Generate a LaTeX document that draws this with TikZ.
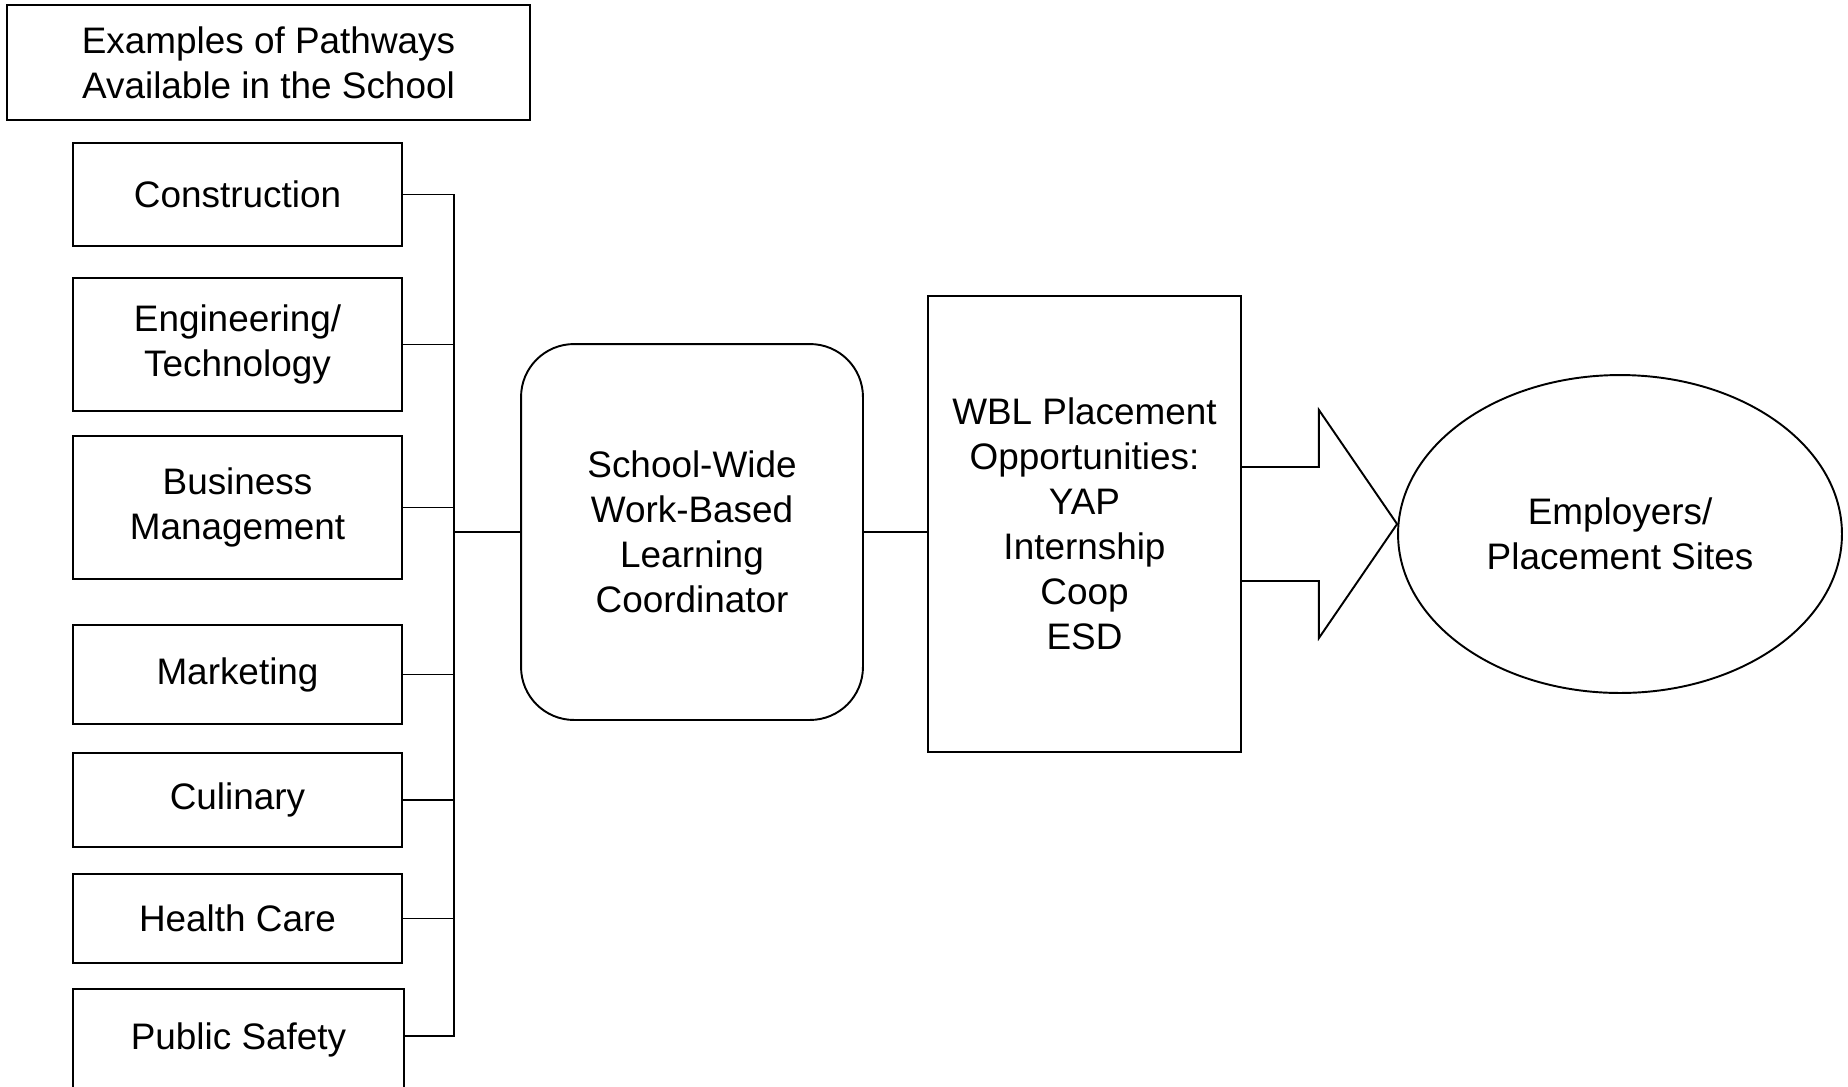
\documentclass[tikz,border=0pt]{standalone}
\usepackage{fontspec}
\setmainfont{Liberation Sans}
\usetikzlibrary{shapes.geometric,calc,positioning}

\begin{document}
\begin{tikzpicture}[x=0.02cm, y=-0.02cm, line width=1.1pt]
    \useasboundingbox (0,0) rectangle (1848,1086);

    % Style for nodes
    \tikzset{
        txt/.style={align=center, inner sep=0pt, font=\fontsize{21}{25.6}\selectfont},
        pathbox/.style={txt, rectangle, draw=black, minimum width=6.58cm},
        coordbox/.style={txt, rectangle, rounded corners=1.06cm, draw=black, minimum width=6.84cm, minimum height=7.52cm},
        wblbox/.style={txt, rectangle, draw=black, minimum width=6.26cm, minimum height=9.12cm},
        sitenode/.style={txt, ellipse, draw=black, minimum width=8.88cm, minimum height=6.36cm}
    }

    % --- HEADING ---
    \node[txt, draw=black, minimum width=10.46cm, minimum height=2.3cm] (title) at (268.5,62.5) {Examples of Pathways\\Available in the School};

    % --- PATHWAY BOXES ---
    \node[pathbox, minimum height=2.06cm] (constr) at (237.5,194.5) {Construction};
    \node[pathbox, minimum height=2.66cm] (engtech) at (237.5,344.5) {Engineering/\\Technology};
    \node[pathbox, minimum height=2.86cm] (busmgmt) at (237.5,507.5) {Business\\Management};
    \node[pathbox, minimum height=1.98cm] (market) at (237.5,674.5) {Marketing};
    \node[pathbox, minimum height=1.88cm] (culin) at (237.5,800) {Culinary};
    \node[pathbox, minimum height=1.78cm] (health) at (237.5,918.5) {Health Care};
    % last box runs off the bottom edge
    \node[pathbox, minimum width=6.62cm, text height=1.2cm, text depth=1.42cm, anchor=base] (safety) at (238.5,1049) {Public Safety};

    % --- CENTRE AND RIGHT ---
    \node[coordbox] (coord) at (692,532) {School-Wide\\Work-Based\\Learning\\Coordinator};
    \node[wblbox] (wbl) at (1084.5,524) {WBL Placement\\Opportunities:\\YAP\\Internship\\Coop\\ESD};
    \node[sitenode] (sites) at (1620,534) {Employers/\\Placement Sites};

    % --- BUS CONNECTIONS ---
    \coordinate (bus) at (454,0);
    \coordinate (safetyjoin) at ($(safety.base east)+(0,-13)$);
    \draw (constr.east) -- (constr.east -| bus) -- (safetyjoin -| bus) -- (safetyjoin);
    \draw (engtech.east) -- (engtech.east -| bus);
    \draw (busmgmt.east) -- (busmgmt.east -| bus);
    \draw (market.east) -- (market.east -| bus);
    \draw (culin.east) -- (culin.east -| bus);
    \draw (health.east) -- (health.east -| bus);
    \draw (coord.west) -- (coord.west -| bus);
    \draw (coord.east) -- (coord.east -| wbl.west);

    % --- BLOCK ARROW TO SITES ---
    \coordinate (tip) at (sites.west |- wbl.east);
    \draw ($(wbl.east)+(0,-57)$) -- ++(77,0) -- ++(0,-57) -- (tip)
        -- ($(wbl.east)+(77,114)$) -- ++(0,-57) -- ++(-77,0);

\end{tikzpicture}
\end{document}
